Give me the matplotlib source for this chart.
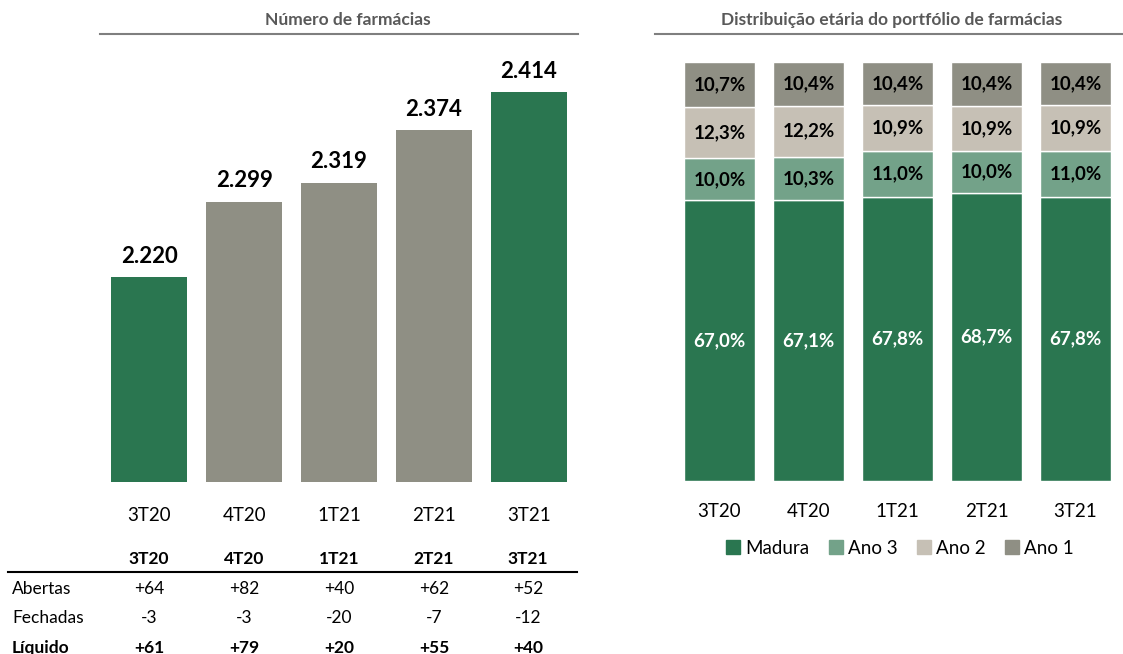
import matplotlib.pyplot as plt
from matplotlib.patches import Patch
from matplotlib.lines import Line2D

plt.rcParams['font.family'] = ['Lato', 'DejaVu Sans']

quarters = ["3T20", "4T20", "1T21", "2T21", "3T21"]
farmacias = [2220, 2299, 2319, 2374, 2414]
farm_labels = ["2.220", "2.299", "2.319", "2.374", "2.414"]

madura = [67.0, 67.1, 67.8, 68.7, 67.8]
ano3 = [10.0, 10.3, 11.0, 10.0, 11.0]
ano2 = [12.3, 12.2, 10.9, 10.9, 10.9]
ano1 = [10.7, 10.4, 10.4, 10.4, 10.4]

abertas = ["+64", "+82", "+40", "+62", "+52"]
fechadas = ["-3", "-3", "-20", "-7", "-12"]
liquido = ["+61", "+79", "+20", "+55", "+40"]

GREEN = "#2A7650"
GREEN_L = "#73A289"
BEIGE = "#C6C0B5"
GREY = "#8F8F84"
TITLE_C = "#595959"

W, H = 1123, 654
fig = plt.figure(figsize=(W / 100, H / 100), dpi=100)


def px_axes(x0, y0, x1, y1):
    # pixel box (top-left origin) -> figure axes
    return fig.add_axes([x0 / W, 1 - y1 / H, (x1 - x0) / W, (y1 - y0) / H])


# ---- left chart: number of pharmacies
ax1 = px_axes(102, 58, 576, 482)
colors1 = [GREEN, GREY, GREY, GREY, GREEN]
x = range(len(quarters))
ax1.bar(x, farmacias, width=0.8, color=colors1)
ax1.set_ylim(2005, 2450)
ax1.set_xlim(-0.5, 4.5)
for i, v in enumerate(farmacias):
    ax1.text(i, v + 11, farm_labels[i], ha="center", va="bottom",
             fontsize=16, fontweight="bold", color="black")
ax1.set_xticks(list(x))
ax1.set_xticklabels(quarters, fontsize=13.5)
ax1.tick_params(axis="x", length=0, pad=18)
ax1.set_yticks([])
for s in ax1.spines.values():
    s.set_visible(False)

# ---- right chart: age distribution
ax2 = px_axes(675, 62, 1120, 481)
b1 = ax2.bar(x, madura, width=0.8, color=GREEN, edgecolor="white", linewidth=1)
bottom = madura
b2 = ax2.bar(x, ano3, width=0.8, bottom=bottom, color=GREEN_L,
             edgecolor="white", linewidth=1)
bottom = [a + b for a, b in zip(bottom, ano3)]
b3 = ax2.bar(x, ano2, width=0.8, bottom=bottom, color=BEIGE,
             edgecolor="white", linewidth=1)
bottom2 = [a + b for a, b in zip(bottom, ano2)]
b4 = ax2.bar(x, ano1, width=0.8, bottom=bottom2, color=GREY,
             edgecolor="white", linewidth=1)
ax2.set_ylim(0, 100)
ax2.set_xlim(-0.5, 4.5)

for series, bars, col in [(madura, b1, "white"), (ano3, b2, "black"),
                          (ano2, b3, "black"), (ano1, b4, "black")]:
    for v, r in zip(series, bars):
        ax2.text(r.get_x() + r.get_width() / 2, r.get_y() + r.get_height() / 2,
                 f"{v:.1f}%".replace(".", ","), ha="center", va="center",
                 fontsize=13.5, fontweight="bold", color=col)

ax2.set_xticks(list(x))
ax2.set_xticklabels(quarters, fontsize=13.5)
ax2.tick_params(axis="x", length=0, pad=16)
ax2.set_yticks([])
for s in ax2.spines.values():
    s.set_visible(False)

handles = [Patch(color=GREEN), Patch(color=GREEN_L), Patch(color=BEIGE), Patch(color=GREY)]
fig.legend(handles, ["Madura", "Ano 3", "Ano 2", "Ano 1"], loc="center",
           bbox_to_anchor=(900 / W, 1 - 548 / H), ncol=4, frameon=False,
           fontsize=13.5, handlelength=0.75, handleheight=0.75, handletextpad=0.3,
           columnspacing=1.0)

# ---- titles with underline
fig.text(348 / W, 1 - 20 / H, "Número de farmácias", ha="center", va="center",
         fontsize=12.5, fontweight="bold", color=TITLE_C)
fig.add_artist(Line2D([100 / W, 578 / W], [1 - 34 / H] * 2, color="#7F7F7F", lw=1.5))
fig.text(892 / W, 1 - 20 / H, "Distribuição etária do portfólio de farmácias",
         ha="center", va="center", fontsize=12.5, fontweight="bold", color=TITLE_C)
fig.add_artist(Line2D([655 / W, 1123 / W], [1 - 34 / H] * 2, color="#7F7F7F", lw=1.5))

# ---- table below left chart
col_x = [149, 244, 339, 434, 528]
for cx, q in zip(col_x, quarters):
    fig.text(cx / W, 1 - 559 / H, q, ha="center", va="center",
             fontsize=12.5, fontweight="bold")
fig.add_artist(Line2D([8 / W, 577 / W], [1 - 572 / H] * 2, color="black", lw=1.5))
rows = [("Abertas", abertas, "normal", 589), ("Fechadas", fechadas, "normal", 618),
        ("Líquido", liquido, "bold", 648)]
for name, vals, wt, y in rows:
    fig.text(12 / W, 1 - y / H, name, ha="left", va="center", fontsize=12.5, fontweight=wt)
    for cx, v in zip(col_x, vals):
        fig.text(cx / W, 1 - y / H, v, ha="center", va="center", fontsize=12.5, fontweight=wt)

fig.savefig("out.png", dpi=100)
